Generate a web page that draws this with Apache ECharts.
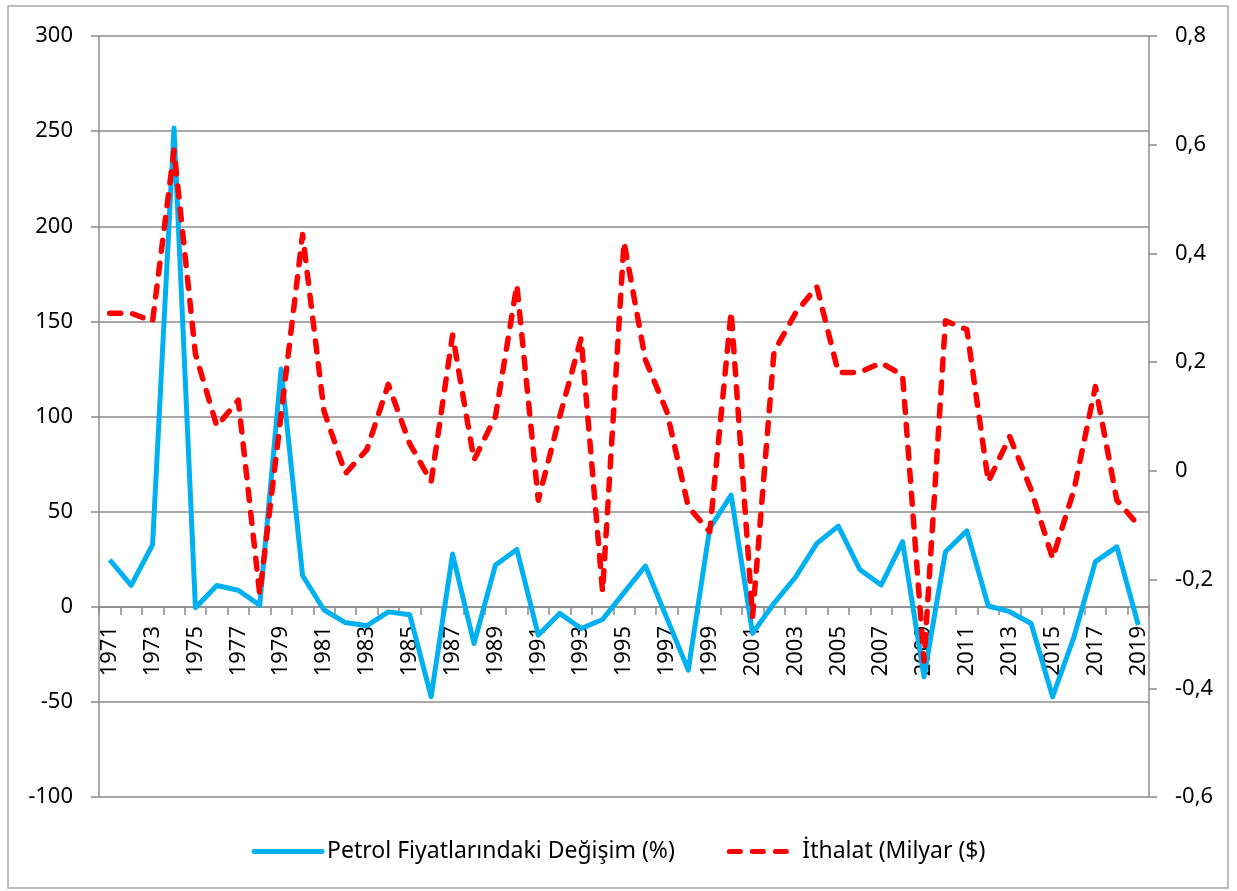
<!DOCTYPE html>
<html>
<head>
<meta charset="utf-8">
<script src="https://cdn.jsdelivr.net/npm/echarts@6/dist/echarts.min.js"></script>
<style>
  html, body { margin: 0; padding: 0; background: #fff; }
  #chart { width: 1237px; height: 891px; }
</style>
</head>
<body>
<div id="chart"></div>
<script>
// years on the x axis
var years = [];
for (var y = 1971; y <= 2019; y++) { years.push(String(y)); }

// Petrol Fiyatlarındaki Değişim (%) - left axis
var petrolChange = [
    24.7, 11.2, 32.6, 251.7, -0.5, 11.2, 8.7, 0.8, 125, 16.4,
    -1.7, -8.3, -10, -2.7, -4.2, -47.3, 27.7, -19.3, 21.9, 30.1,
    -14.9, -3.5, -11.4, -6.7, 7.4, 21.4, -6, -33.3, 41.2, 58.7,
    -14, 1.8, 15.5, 33.3, 42.4, 19.6, 11.4, 34.2, -36.8, 28.9,
    39.9, 0.4, -2.6, -8.8, -47.3, -15.8, 23.7, 31.5, -9.6
];

// İthalat (Milyar ($) - right axis
var imports = [
    0.29, 0.29, 0.275, 0.59, 0.215, 0.082, 0.13, -0.227, 0.104, 0.435,
    0.11, -0.005, 0.039, 0.159, 0.05, -0.02, 0.25, 0.02, 0.10, 0.342,
    -0.054, 0.10, 0.244, -0.222, 0.421, 0.204, 0.109, -0.066, -0.112, 0.293,
    -0.268, 0.219, 0.29, 0.339, 0.181, 0.181, 0.199, 0.176, -0.35, 0.276,
    0.26, -0.02, 0.063, -0.035, -0.161, -0.035, 0.155, -0.054, -0.1
];

var seriesNames = ['Petrol Fiyatlarındaki Değişim (%)', 'İthalat (Milyar ($)'];

var font = 'Noto Sans';
var gray = '#8c8c8c';
var dash = [11, 12];

var chart = echarts.init(document.getElementById('chart'));
var option = {
    animation: false,
    textStyle: { fontFamily: font },
    grid: { left: 99, right: 88, top: 36, bottom: 94, containLabel: false },
    graphic: [{
        type: 'rect',
        shape: { x: 8, y: 6, width: 1220, height: 882 },
        style: { fill: 'none', stroke: '#a6a6a6', lineWidth: 1.5 },
        silent: true
    }],
    legend: {
        bottom: 23,
        left: 'center',
        itemWidth: 68,
        itemHeight: 14,
        itemGap: 52,
        itemStyle: { opacity: 0 },
        lineStyle: { width: 5, cap: 'round' },
        textStyle: { fontFamily: font, fontSize: 23, color: '#000' },
        data: seriesNames
    },
    xAxis: {
        type: 'category',
        data: years,
        boundaryGap: true,
        // axis sits on the left-axis zero line
        offset: -190,
        axisLine: { onZero: false, lineStyle: { color: gray, width: 1.5 } },
        axisTick: { show: true, interval: 0, length: 8, lineStyle: { color: gray, width: 1.5 } },
        axisLabel: { interval: 1, rotate: 90, fontFamily: font, fontSize: 22, color: '#000', margin: 19 },
        splitLine: { show: false }
    },
    yAxis: [
        {
            type: 'value',
            min: -100,
            max: 300,
            interval: 50,
            axisLine: { show: true, lineStyle: { color: gray, width: 1.5 } },
            axisTick: { show: true, length: 8, lineStyle: { color: gray, width: 1.5 } },
            axisLabel: { fontFamily: font, fontSize: 22, color: '#000', margin: 26 },
            splitLine: { show: true, lineStyle: { color: gray, width: 1.5 } }
        },
        {
            type: 'value',
            min: -0.6,
            max: 0.8,
            interval: 0.2,
            axisLine: { show: true, lineStyle: { color: gray, width: 1.5 } },
            axisTick: { show: true, length: 8, lineStyle: { color: gray, width: 1.5 } },
            axisLabel: {
                fontFamily: font, fontSize: 22, color: '#000', margin: 26,
                formatter: function (v) {
                    var r = Math.round(v * 10) / 10;
                    return r === 0 ? '0' : String(r).replace('.', ',');
                }
            },
            splitLine: { show: false }
        }
    ],
    series: [
        {
            name: seriesNames[0],
            type: 'line',
            yAxisIndex: 0,
            data: petrolChange,
            symbol: 'none',
            lineStyle: { color: '#00b0f0', width: 5, join: 'round' },
            itemStyle: { color: '#00b0f0' }
        },
        {
            name: seriesNames[1],
            type: 'line',
            yAxisIndex: 1,
            data: imports,
            symbol: 'none',
            lineStyle: { color: '#ff0000', width: 5.5, type: dash, cap: 'round', join: 'round' },
            itemStyle: { color: '#ff0000' }
        }
    ]
};
chart.setOption(option);
</script>
</body>
</html>
